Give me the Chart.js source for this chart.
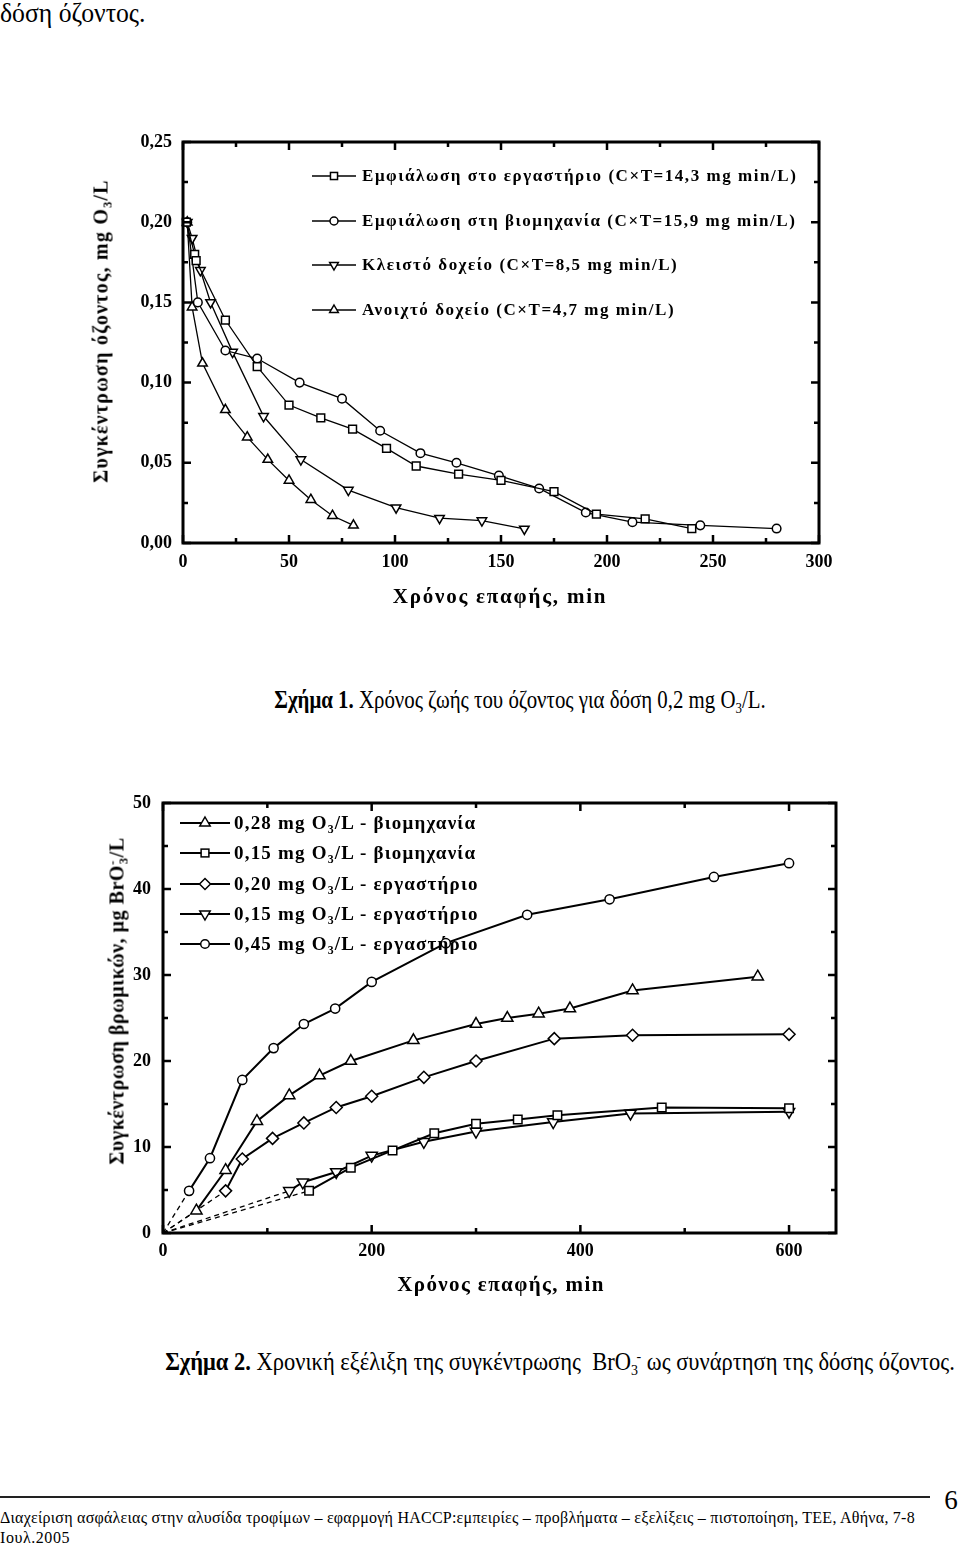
<!DOCTYPE html>
<html lang="el">
<head>
<meta charset="utf-8">
<title>Σχήματα 1-2</title>
<script src="https://cdn.jsdelivr.net/npm/chart.js@4.4.1/dist/chart.umd.min.js"></script>
<style>
html,body{margin:0;padding:0;background:#fff;}
body{width:960px;height:1544px;position:relative;overflow:hidden;font-family:"Liberation Serif","Times New Roman",serif;color:#000;}
.t{position:absolute;white-space:nowrap;line-height:1.15;}
.t > span{display:inline-block;}
.c{transform:translate(-50%,-50%);}
.r{transform:translate(-50%,-50%) rotate(-90deg);}
.l{transform:translate(0,-50%);}
canvas{position:absolute;left:0;}
sub{font-size:0.62em;vertical-align:-0.35em;line-height:0;}
sup{font-size:0.62em;vertical-align:0.55em;line-height:0;}
.leg{position:absolute;display:flex;align-items:center;white-space:nowrap;font-weight:bold;transform:translate(0,-50%);}
.leg svg{flex:none;display:block;}
.leg span{display:inline-block;}
#rule{position:absolute;left:0;top:1496px;width:930px;height:2px;background:#222;}
</style>
</head>
<body>
<div class="t" style="left:0;top:-3px;font-size:28px;"><span data-w="145" data-o="0 50%">δόση όζοντος.</span></div>

<canvas id="c1" width="960" height="520" style="top:100px"></canvas>
<div class="t r" style="left:101px;top:331px;font-size:20px;font-weight:bold;"><span data-w="304" data-o="50% 50%">Συγκέντρωση όζοντος, mg O<sub>3</sub>/L</span></div>
<div class="t c" style="left:500px;top:596px;font-size:21px;font-weight:bold;"><span data-w="215" data-o="50% 50%">Χρόνος επαφής, min</span></div>
<div id="leg1"></div>
<div class="t c" style="left:520px;top:700px;font-size:25px;"><span data-w="491" data-o="50% 50%"><b>Σχήμα 1.</b> Χρόνος ζωής του όζοντος για δόση 0,2 mg O<sub>3</sub>/L.</span></div>

<canvas id="c2" width="960" height="540" style="top:760px"></canvas>
<div class="t r" style="left:117px;top:1001px;font-size:20px;font-weight:bold;"><span data-w="327" data-o="50% 50%">Συγκέντρωση βρωμικών, μg BrO<sup>-</sup><sub style="margin-left:-0.3em">3</sub>/L</span></div>
<div class="t c" style="left:501px;top:1284px;font-size:21px;font-weight:bold;"><span data-w="208" data-o="50% 50%">Χρόνος επαφής, min</span></div>
<div id="leg2"></div>
<div class="t c" style="left:560px;top:1362px;font-size:25px;"><span data-w="790" data-o="50% 50%"><b>Σχήμα 2.</b> Χρονική εξέλιξη της συγκέντρωσης&nbsp; BrO<sub>3</sub><sup style="margin-left:-0.1em">-</sup> ως συνάρτηση της δόσης όζοντος.</span></div>

<div id="rule"></div>
<div class="t c" style="left:951px;top:1501px;font-size:27px;"><span>6</span></div>
<div class="t l" style="left:0;top:1518px;font-size:16px;"><span data-w="915" data-o="0 50%">Διαχείριση ασφάλειας στην αλυσίδα τροφίμων – εφαρμογή HACCP:εμπειρίες – προβλήματα – εξελίξεις – πιστοποίηση, ΤΕΕ, Αθήνα, 7-8</span></div>
<div class="t l" style="left:0;top:1538px;font-size:16px;"><span data-w="70" data-o="0 50%">Ιουλ.2005</span></div>

<script>
// ---------------- Figure 1 data (time, min ; ozone mg O3/L) ----------------
const f1Labels = [
  'Εμφιάλωση στο εργαστήριο (C×T=14,3 mg min/L)',
  'Εμφιάλωση στη βιομηχανία (C×T=15,9 mg min/L)',
  'Κλειστό δοχείο (C×T=8,5 mg min/L)',
  'Ανοιχτό δοχείο (C×T=4,7 mg min/L)'
];
const f1LabT = [1.6, 5.5, 6.2, 20, 35, 50, 65, 80, 96, 110, 130, 150, 175, 195, 218, 240];
const f1LabC = [0.200, 0.180, 0.176, 0.139, 0.110, 0.086, 0.078, 0.071, 0.059, 0.048, 0.043, 0.039, 0.032, 0.018, 0.015, 0.009];
const f1IndT = [2, 7, 20, 35, 55, 75, 93, 112, 129, 149, 168, 190, 212, 244, 280];
const f1IndC = [0.200, 0.150, 0.120, 0.115, 0.100, 0.090, 0.070, 0.056, 0.050, 0.042, 0.034, 0.019, 0.013, 0.011, 0.009];
const f1ClosedT = [2, 4.3, 8.2, 13, 23.4, 38, 55.6, 78, 100.5, 121, 141, 161];
const f1ClosedC = [0.200, 0.190, 0.170, 0.150, 0.119, 0.079, 0.052, 0.033, 0.022, 0.0155, 0.014, 0.0088];
const f1OpenT = [2, 4.3, 9.2, 20, 30.3, 40, 50, 60.3, 70.5, 80.4];
const f1OpenC = [0.200, 0.147, 0.112, 0.083, 0.066, 0.052, 0.039, 0.027, 0.017, 0.011];
const f1XRange = [0, 300], f1XMajor = 50, f1XMinor = 25;
const f1YRange = [0, 0.25], f1YMajor = 0.05, f1YMinor = 0.025;

// ---------------- Figure 2 data (time, min ; bromate μg/L) ----------------
const f2Labels = [
  '0,28 mg O3/L - βιομηχανία',
  '0,15 mg O3/L - βιομηχανία',
  '0,20 mg O3/L - εργαστήριο',
  '0,15 mg O3/L - εργαστήριο',
  '0,45 mg O3/L - εργαστήριο'
];
const f2Ind28T = [32, 60, 90, 121, 150, 180, 240, 300, 330, 360, 390, 450, 570];
const f2Ind28B = [2.6, 7.3, 13.0, 16.0, 18.3, 20.0, 22.4, 24.3, 25.0, 25.5, 26.1, 28.2, 29.8];
const f2Ind15T = [140, 180, 220, 260, 300, 340, 378, 478, 600];
const f2Ind15B = [4.9, 7.6, 9.6, 11.6, 12.7, 13.2, 13.7, 14.6, 14.5];
const f2Lab20T = [60, 76, 105, 135, 166, 200, 250, 300, 375, 450, 600];
const f2Lab20B = [4.9, 8.6, 11.0, 12.8, 14.6, 15.9, 18.1, 20.0, 22.6, 23.0, 23.1];
const f2Lab15T = [121, 134, 166, 200, 250, 300, 374, 448, 600];
const f2Lab15B = [4.9, 5.9, 7.1, 9.0, 10.6, 11.8, 12.9, 13.9, 14.1];
const f2Lab45T = [25, 45, 76, 106, 135, 165, 200, 271, 349, 428, 528, 600];
const f2Lab45B = [4.9, 8.7, 17.8, 21.5, 24.3, 26.1, 29.2, 33.7, 37.0, 38.8, 41.4, 43.0];
const f2Origin = [0, 0];
const f2XRange = [0, 645], f2XMajor = 200, f2XMinor = 100;
const f2YRange = [0, 50], f2YMajor = 10, f2YMinor = 5;

// ---------------- helpers ----------------
const pts = (xs, ys) => xs.map((x, i) => ({x, y: ys[i]}));
const FONT = "'Liberation Serif', 'Times New Roman', serif";
Chart.defaults.font.family = FONT;
Chart.defaults.color = '#000';

const framePlugin = {
  id: 'frame',
  afterDatasetsDraw(chart, args, o) {
    const {ctx, chartArea: a, scales: {x, y}} = chart;
    ctx.save();
    ctx.strokeStyle = '#000';
    ctx.lineWidth = o.tickWidth;
    ctx.lineCap = 'butt';
    const isMajor = (v, m) => Math.abs(v / m - Math.round(v / m)) < 1e-6;
    ctx.beginPath();
    for (let k = 0; ; k++) {
      const v = x.min + k * o.xMinor;
      if (v > x.max + 1e-9) break;
      const p = x.getPixelForValue(v);
      const len = isMajor(v, o.xMajor) ? o.major : o.minor;
      ctx.moveTo(p, a.bottom); ctx.lineTo(p, a.bottom - len);
      ctx.moveTo(p, a.top); ctx.lineTo(p, a.top + len);
    }
    for (let k = 0; ; k++) {
      const v = y.min + k * o.yMinor;
      if (v > y.max + 1e-9) break;
      const p = y.getPixelForValue(v);
      const len = isMajor(v, o.yMajor) ? o.major : o.minor;
      ctx.moveTo(a.left, p); ctx.lineTo(a.left + len, p);
      ctx.moveTo(a.right, p); ctx.lineTo(a.right - len, p);
    }
    ctx.stroke();
    ctx.lineWidth = o.frameWidth;
    ctx.strokeRect(a.left, a.top, a.right - a.left, a.bottom - a.top);
    ctx.restore();
  }
};

function series(data, style, r, lw, label) {
  const rot = style === 'triDown' ? 180 : 0;
  const ps = style === 'triUp' || style === 'triDown' ? 'triangle' : style;
  return {
    label, data, showLine: true, borderColor: '#000', borderWidth: lw,
    pointStyle: ps, rotation: rot, pointRadius: r, pointBorderWidth: 1.5,
    pointBackgroundColor: '#fff', pointBorderColor: '#000', clip: false, tension: 0
  };
}

function axis(range, step, font, pad, size, isX, fmt) {
  return {
    type: 'linear', min: range[0], max: range[1],
    afterFit: s => { if (isX) s.height = size; else s.width = size; },
    ticks: {stepSize: step, font, padding: pad, maxRotation: 0, autoSkip: false, includeBounds: false,
            callback: v => fmt(v)},
    grid: {display: false, drawTicks: false},
    border: {display: false}
  };
}

function markerSVG(shape, w, h, r, lw) {
  const cx = w / 2, cy = h / 2;
  let m = '';
  if (shape === 'rect') { const s = r * Math.SQRT1_2; m = `<rect x="${cx - s}" y="${cy - s}" width="${2 * s}" height="${2 * s}"/>`; }
  else if (shape === 'circle') m = `<circle cx="${cx}" cy="${cy}" r="${r}"/>`;
  else if (shape === 'rectRot') m = `<polygon points="${cx - r},${cy} ${cx},${cy - r} ${cx + r},${cy} ${cx},${cy + r}"/>`;
  else {
    const sgn = shape === 'triDown' ? -1 : 1, a = 0.866 * r;
    m = `<polygon points="${cx},${cy - sgn * r} ${cx + a},${cy + sgn * r / 2} ${cx - a},${cy + sgn * r / 2}"/>`;
  }
  return `<svg width="${w}" height="${h}"><line x1="0" y1="${cy}" x2="${w}" y2="${cy}" stroke="#000" stroke-width="${lw}"/>` +
         `<g fill="#fff" stroke="#000" stroke-width="1.5">${m}</g></svg>`;
}

function buildLegend(id, labels, styles, radii, cfg) {
  const host = document.getElementById(id);
  const spans = [];
  labels.forEach((lab, i) => {
    const row = document.createElement('div');
    row.className = 'leg';
    row.style.left = cfg.left + 'px';
    row.style.top = (cfg.top + i * cfg.gap) + 'px';
    row.style.fontSize = cfg.size + 'px';
    row.innerHTML = markerSVG(styles[i], cfg.sampleW, 16, radii[i], cfg.lw) +
      `<span style="margin-left:${cfg.textGap}px">${lab.replace(/O3/g, 'O<sub>3</sub>')}</span>`;
    host.appendChild(row);
    spans.push(row.querySelector('span'));
  });
  const s0 = spans[0];
  const w = s0.offsetWidth, n = s0.textContent.length;
  if (w < cfg.textW) {
    const ls = (cfg.textW - w) / n;
    spans.forEach(s => s.style.letterSpacing = ls + 'px');
  } else {
    spans.forEach(s => { s.style.transform = `scaleX(${cfg.textW / w})`; s.style.transformOrigin = '0 50%'; });
  }
}

// ---------------- Figure 1 ----------------
const f1Styles = ['rect', 'circle', 'triDown', 'triUp'];
const f1Radii = [5.5, 4.3, 5.5, 5.5];
const tf1 = {family: FONT, size: 18, weight: 'bold'};
new Chart(document.getElementById('c1'), {
  type: 'scatter',
  data: {datasets: [
    series(pts(f1LabT, f1LabC), f1Styles[0], f1Radii[0], 1.3, f1Labels[0]),
    series(pts(f1IndT, f1IndC), f1Styles[1], f1Radii[1], 1.3, f1Labels[1]),
    series(pts(f1ClosedT, f1ClosedC), f1Styles[2], f1Radii[2], 1.3, f1Labels[2]),
    series(pts(f1OpenT, f1OpenC), f1Styles[3], f1Radii[3], 1.3, f1Labels[3])
  ]},
  options: {
    responsive: false, animation: false, devicePixelRatio: 1,
    layout: {padding: {left: 0, top: 42, right: 141, bottom: 37}},
    plugins: {legend: {display: false}, tooltip: {enabled: false},
      frame: {xMajor: f1XMajor, xMinor: f1XMinor, yMajor: f1YMajor, yMinor: f1YMinor, major: 8, minor: 5, tickWidth: 2.5, frameWidth: 3}},
    scales: {
      x: axis(f1XRange, f1XMajor, tf1, 9, 40, true, v => String(v)),
      y: axis(f1YRange, f1YMajor, tf1, 11, 183, false, v => v.toFixed(2).replace('.', ','))
    }
  },
  plugins: [framePlugin]
});
buildLegend('leg1', f1Labels, f1Styles, [5, 4, 5, 5],
  {left: 312, top: 176, gap: 44.7, size: 17, sampleW: 44, textGap: 6, textW: 435, lw: 1.3});

// ---------------- Figure 2 ----------------
const f2Styles = ['triUp', 'rect', 'rectRot', 'triDown', 'circle'];
const f2Radii = [6.5, 6, 6, 6.5, 4.6];
const f2T = [f2Ind28T, f2Ind15T, f2Lab20T, f2Lab15T, f2Lab45T];
const f2B = [f2Ind28B, f2Ind15B, f2Lab20B, f2Lab15B, f2Lab45B];
const tf2 = {family: FONT, size: 18, weight: 'bold'};
const f2Sets = f2T.map((t, i) => series(pts(t, f2B[i]), f2Styles[i], f2Radii[i], 2, f2Labels[i]));
const f2Dash = f2T.map((t, i) => ({
  data: [{x: f2Origin[0], y: f2Origin[1]}, {x: t[0], y: f2B[i][0]}],
  showLine: true, borderColor: '#000', borderWidth: 1.3, borderDash: [5, 4],
  pointRadius: 0, clip: false
}));
new Chart(document.getElementById('c2'), {
  type: 'scatter',
  data: {datasets: f2Sets.concat(f2Dash)},
  options: {
    responsive: false, animation: false, devicePixelRatio: 1,
    layout: {padding: {left: 0, top: 43, right: 124, bottom: 27}},
    plugins: {legend: {display: false}, tooltip: {enabled: false},
      frame: {xMajor: f2XMajor, xMinor: f2XMinor, yMajor: f2YMajor, yMinor: f2YMinor, major: 8, minor: 5, tickWidth: 2.5, frameWidth: 3}},
    scales: {
      x: axis(f2XRange, f2XMajor, tf2, 8, 40, true, v => (v % f2XMajor === 0 ? String(v) : '')),
      y: axis(f2YRange, f2YMajor, tf2, 12, 163, false, v => String(v))
    }
  },
  plugins: [framePlugin]
});
buildLegend('leg2', f2Labels, f2Styles, [6, 5.5, 5.5, 6, 4.3],
  {left: 180, top: 823, gap: 30.3, size: 19, sampleW: 50, textGap: 4, textW: 242, lw: 2});

// ---------------- fit free text to measured widths ----------------
document.querySelectorAll('[data-w]').forEach(el => {
  const target = +el.dataset.w, w = el.offsetWidth, n = el.textContent.length;
  if (w < target) el.style.letterSpacing = ((target - w) / n) + 'px';
  else { el.style.transform = `scaleX(${target / w})`; el.style.transformOrigin = el.dataset.o; }
});
</script>
</body>
</html>
